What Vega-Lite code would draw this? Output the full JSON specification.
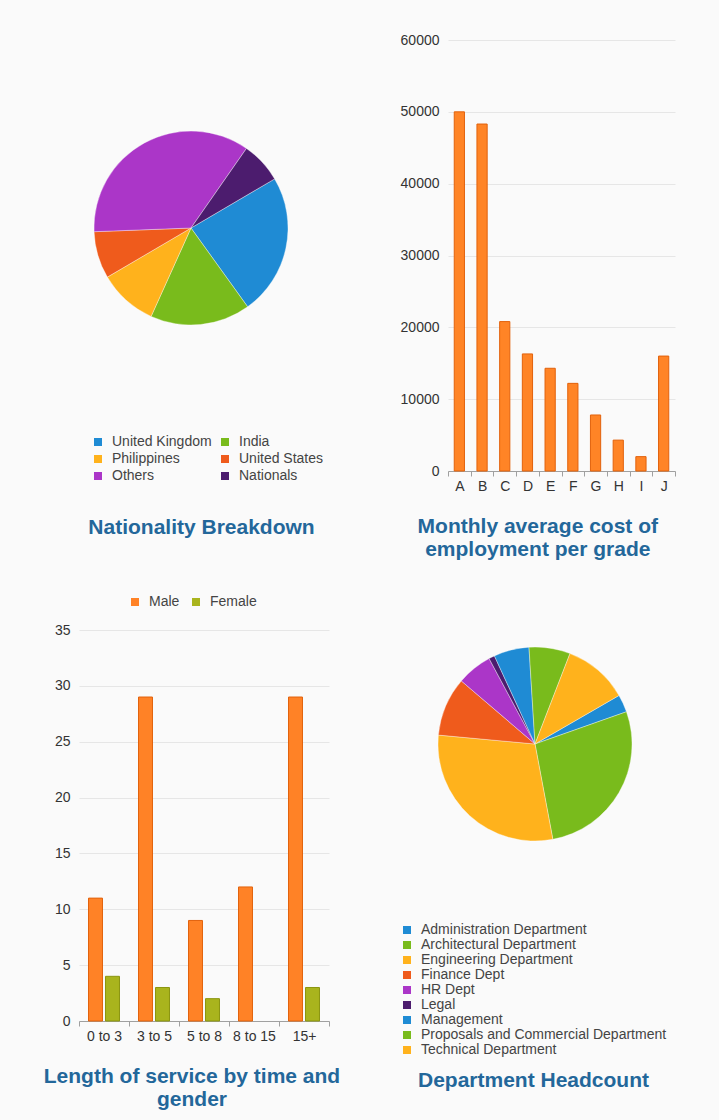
{
  "$schema": "https://vega.github.io/schema/vega-lite/v6.json",
  "background": "#fafafa",
  "padding": {"left": 43, "top": 33, "right": 43, "bottom": 12},
  "spacing": 59,
  "config": {
    "view": {"stroke": null},
    "font": "Liberation Sans",
    "axis": {"labelFont": "Liberation Sans", "labelFontSize": 14, "labelColor": "#333333"},
    "axisY": {"domain": false, "ticks": false, "gridColor": "#e6e6e6", "labelPadding": 9},
    "axisX": {"grid": false, "domainColor": "#a0a0a0", "tickColor": "#a0a0a0", "tickSize": 5, "labelPadding": 3},
    "legend": {"labelFont": "Liberation Sans", "labelFontSize": 14, "labelColor": "#444444", "symbolType": "square", "symbolSize": 64, "symbolStrokeWidth": 0, "rowPadding": 3, "columnPadding": 9, "labelOffset": 7, "padding": 0, "labelLimit": 400},
    "title": {"font": "Liberation Sans", "fontSize": 21, "fontWeight": "bold", "color": "#23679a", "anchor": "middle", "lineHeight": 23, "frame": "bounds"}
  },
  "resolve": {"scale": {"color": "independent", "theta": "independent", "stroke": "independent"}, "legend": {"color": "independent"}},
  "hconcat": [
    {
      "spacing": 57,
      "resolve": {"scale": {"color": "independent", "theta": "independent", "stroke": "independent"}, "legend": {"color": "independent"}},
      "vconcat": [
        {
          "width": 224,
          "height": 376,
          "data": {"values": [
            {"nationality": "United Kingdom", "count": 24, "i": 1},
            {"nationality": "India", "count": 17, "i": 2},
            {"nationality": "Philippines", "count": 10, "i": 3},
            {"nationality": "United States", "count": 8, "i": 4},
            {"nationality": "Others", "count": 36, "i": 5},
            {"nationality": "Nationals", "count": 7, "i": 6}
          ]},
          "mark": {"type": "arc", "radius": 97, "stroke": "#ffffff", "strokeWidth": 0.6, "strokeOpacity": 0.6},
          "encoding": {
            "theta": {"field": "count", "type": "quantitative", "stack": true, "scale": {"range": [1.040, 7.323]}},
            "order": {"field": "i", "type": "quantitative"},
            "color": {
              "field": "nationality", "type": "nominal",
              "scale": {"domain": ["United Kingdom", "India", "Philippines", "United States", "Others", "Nationals"],
                        "range": ["#1f8bd4", "#79bb1c", "#ffb21c", "#ef5b1c", "#ab36c8", "#4c1c6e"]},
              "legend": {"orient": "none", "legendX": 12, "legendY": 395, "title": null, "columns": 2, "gridAlign": "none", "direction": "horizontal", "columnPadding": 6}
            }
          },
          "title": {"text": "Nationality Breakdown", "orient": "bottom", "offset": 34}
        },
        {
          "width": 250,
          "height": 391,
          "data": {"values": [
            {"service": "0 to 3", "gender": "Male", "n": 11},
            {"service": "0 to 3", "gender": "Female", "n": 4},
            {"service": "3 to 5", "gender": "Male", "n": 29},
            {"service": "3 to 5", "gender": "Female", "n": 3},
            {"service": "5 to 8", "gender": "Male", "n": 9},
            {"service": "5 to 8", "gender": "Female", "n": 2},
            {"service": "8 to 15", "gender": "Male", "n": 12},
            {"service": "15+", "gender": "Male", "n": 29},
            {"service": "15+", "gender": "Female", "n": 3}
          ]},
          "mark": {"type": "bar", "strokeWidth": 1},
          "encoding": {
            "x": {"field": "service", "type": "nominal", "sort": ["0 to 3", "3 to 5", "5 to 8", "8 to 15", "15+"],
                  "scale": {"paddingInner": 0, "paddingOuter": 0},
                  "axis": {"title": null, "labelAngle": 0, "tickBand": "extent"}},
            "xOffset": {"field": "gender", "type": "nominal", "sort": ["Male", "Female"], "scale": {"paddingInner": 0.18, "paddingOuter": 0.56}},
            "y": {"field": "n", "type": "quantitative", "scale": {"domain": [0, 35]},
                  "axis": {"title": null, "values": [0, 5, 10, 15, 20, 25, 30, 35]}},
            "color": {"field": "gender", "type": "nominal",
                      "scale": {"domain": ["Male", "Female"], "range": ["#ff8226", "#a9b41d"]},
                      "legend": {"orient": "none", "legendX": 49, "legendY": -35, "direction": "horizontal", "title": null}},
            "stroke": {"field": "gender", "type": "nominal",
                       "scale": {"domain": ["Male", "Female"], "range": ["#e2620c", "#8a950f"]}, "legend": null}
          },
          "title": {"text": ["Length of service by time and", "gender"], "orient": "bottom", "offset": 23}
        }
      ]
    },
    {
      "spacing": 34,
      "resolve": {"scale": {"color": "independent", "theta": "independent"}, "legend": {"color": "independent"}},
      "vconcat": [
        {
          "width": 227,
          "height": 431,
          "data": {"values": [
            {"grade": "A", "cost": 50000},
            {"grade": "B", "cost": 48300},
            {"grade": "C", "cost": 20800},
            {"grade": "D", "cost": 16300},
            {"grade": "E", "cost": 14300},
            {"grade": "F", "cost": 12200},
            {"grade": "G", "cost": 7800},
            {"grade": "H", "cost": 4300},
            {"grade": "I", "cost": 2000},
            {"grade": "J", "cost": 16000}
          ]},
          "mark": {"type": "bar", "width": {"band": 0.45}, "fill": "#ff8426", "stroke": "#e2620c", "strokeWidth": 1},
          "encoding": {
            "x": {"field": "grade", "type": "nominal", "scale": {"paddingInner": 0, "paddingOuter": 0},
                  "axis": {"title": null, "labelAngle": 0, "tickBand": "extent"}},
            "y": {"field": "cost", "type": "quantitative", "scale": {"domain": [0, 60000]},
                  "axis": {"title": null, "values": [0, 10000, 20000, 30000, 40000, 50000, 60000], "format": "d"}}
          },
          "title": {"text": ["Monthly average cost of", "employment per grade"], "orient": "bottom", "offset": 23}
        },
        {
          "width": 174,
          "height": 300,
          "data": {"values": [
            {"dept": "Administration Department", "count": 3, "i": 1},
            {"dept": "Architectural Department", "count": 28, "i": 2},
            {"dept": "Engineering Department", "count": 30, "i": 3},
            {"dept": "Finance Dept", "count": 10, "i": 4},
            {"dept": "HR Dept", "count": 6, "i": 5},
            {"dept": "Legal", "count": 1, "i": 6},
            {"dept": "Management", "count": 6, "i": 7},
            {"dept": "Proposals and Commercial Department", "count": 7, "i": 8},
            {"dept": "Technical Department", "count": 11, "i": 9}
          ]},
          "mark": {"type": "arc", "radius": 97, "stroke": "#ffffff", "strokeWidth": 0.6, "strokeOpacity": 0.6},
          "encoding": {
            "theta": {"field": "count", "type": "quantitative", "stack": true, "scale": {"range": [1.047, 7.330]}},
            "order": {"field": "i", "type": "quantitative"},
            "color": {
              "field": "dept", "type": "nominal",
              "scale": {"domain": ["Administration Department", "Architectural Department", "Engineering Department", "Finance Dept", "HR Dept", "Legal", "Management", "Proposals and Commercial Department", "Technical Department"],
                        "range": ["#1f8bd4", "#79bb1c", "#ffb21c", "#ef5b1c", "#ab36c8", "#4c1c6e", "#1f8bd4", "#79bb1c", "#ffb21c"]},
              "legend": {"orient": "none", "legendX": -48, "legendY": 329, "title": null, "columns": 1, "rowPadding": 1}
            }
          },
          "title": {"text": "Department Headcount", "orient": "bottom", "offset": 13}
        }
      ]
    }
  ]
}
